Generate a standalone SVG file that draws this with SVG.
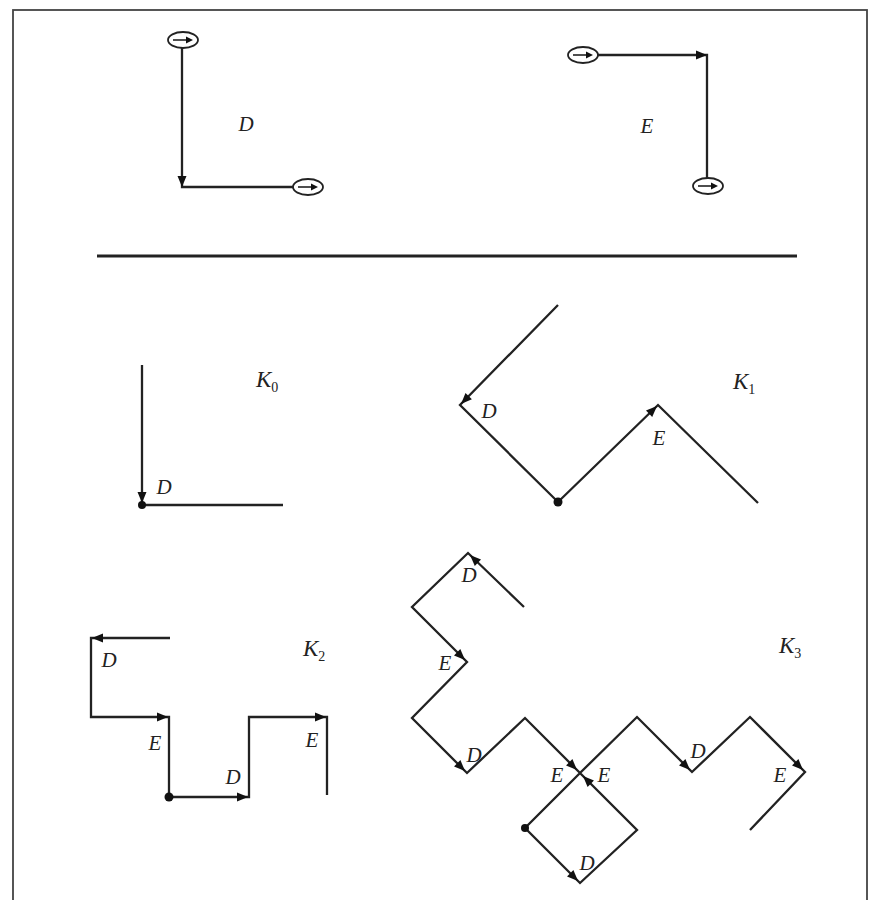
<svg xmlns="http://www.w3.org/2000/svg" xmlns:xlink="http://www.w3.org/1999/xlink" width="875" height="900" viewBox="0 0 875 900">
<style>
.ln{fill:none;stroke:#222;stroke-width:2.3;stroke-linejoin:miter;stroke-linecap:butt}
.ov{fill:none;stroke:#222;stroke-width:1.8}
.ah{fill:#111}
.dot{fill:#111}
.lb{font-family:"Liberation Serif","Times New Roman",serif;font-style:italic;font-size:21px;fill:#222}
.kl{font-size:23px}
.sub{font-style:normal;font-size:14px}
</style>
<defs>
<path id="ah" d="M0,0 L-11,-4.5 L-11,4.5 Z"/>
<path id="sah" d="M0,0 L-7,-3.5 L-7,3.5 Z"/>
</defs>
<rect x="13" y="10" width="854" height="900" fill="#fff" stroke="#444" stroke-width="1.8"/>

<g id="connectors">
<line x1="97" y1="256" x2="797" y2="256" stroke="#222" stroke-width="3"/>
</g>

<g id="rule-D">
<ellipse class="ov" cx="183" cy="40" rx="15" ry="8"/>
<line x1="173" y1="40" x2="187" y2="40" stroke="#222" stroke-width="1.6"/>
<use href="#sah" class="ah" transform="translate(193,40)"/>
<path class="ln" d="M182,48 V187 H293"/>
<use href="#ah" class="ah" transform="translate(182,187) rotate(90)"/>
<ellipse class="ov" cx="308" cy="187" rx="15" ry="8"/>
<line x1="298" y1="187" x2="312" y2="187" stroke="#222" stroke-width="1.6"/>
<use href="#sah" class="ah" transform="translate(318,187)"/>
<text class="lb" x="246" y="131" text-anchor="middle">D</text>
</g>

<g id="rule-E">
<ellipse class="ov" cx="583" cy="55" rx="15" ry="8"/>
<line x1="573" y1="55" x2="587" y2="55" stroke="#222" stroke-width="1.6"/>
<use href="#sah" class="ah" transform="translate(593,55)"/>
<path class="ln" d="M598,55 H707 V178"/>
<use href="#ah" class="ah" transform="translate(707,55)"/>
<ellipse class="ov" cx="708" cy="186" rx="15" ry="8"/>
<line x1="698" y1="186" x2="712" y2="186" stroke="#222" stroke-width="1.6"/>
<use href="#sah" class="ah" transform="translate(718,186)"/>
<text class="lb" x="647" y="133" text-anchor="middle">E</text>
</g>

<g id="K0">
<path class="ln" d="M142,365 V505 H283"/>
<use href="#ah" class="ah" transform="translate(142,503) rotate(90)"/>
<circle class="dot" cx="142" cy="505" r="4"/>
<text class="lb" x="164" y="494" text-anchor="middle">D</text>
<text class="lb kl" x="256" y="387">K<tspan class="sub" dy="5">0</tspan></text>
</g>

<g id="K1">
<path class="ln" d="M558,305 L460,405 L558,502 L658,405 L758,503"/>
<use href="#ah" class="ah" transform="translate(461,404) rotate(134.4)"/>
<use href="#ah" class="ah" transform="translate(657,406) rotate(-44.1)"/>
<circle class="dot" cx="558" cy="502" r="4.5"/>
<text class="lb" x="489" y="418" text-anchor="middle">D</text>
<text class="lb" x="659" y="445" text-anchor="middle">E</text>
<text class="lb kl" x="733" y="389">K<tspan class="sub" dy="5">1</tspan></text>
</g>

<g id="K2">
<path class="ln" d="M170,638 H91 V717 H169 V797 H249 V717 H327 V795"/>
<use href="#ah" class="ah" transform="translate(92,638) rotate(180)"/>
<use href="#ah" class="ah" transform="translate(168,717)"/>
<use href="#ah" class="ah" transform="translate(248,797)"/>
<use href="#ah" class="ah" transform="translate(326,717)"/>
<circle class="dot" cx="169" cy="797" r="4.5"/>
<text class="lb" x="109" y="667" text-anchor="middle">D</text>
<text class="lb" x="155" y="750" text-anchor="middle">E</text>
<text class="lb" x="233" y="784" text-anchor="middle">D</text>
<text class="lb" x="312" y="747" text-anchor="middle">E</text>
<text class="lb kl" x="303" y="656">K<tspan class="sub" dy="5">2</tspan></text>
</g>

<g id="K3">
<path class="ln" d="M524,607 L468,553 L412,607 L467,662 L412,718 L467,773 L525,718 L580,773 L525,828 L580,883 L637,830 L580,773 L637,717 L692,772 L750,717 L805,772 L750,830"/>
<use href="#ah" class="ah" transform="translate(470,555) rotate(-136)"/>
<use href="#ah" class="ah" transform="translate(465,660) rotate(44.5)"/>
<use href="#ah" class="ah" transform="translate(465,771) rotate(45)"/>
<use href="#ah" class="ah" transform="translate(577,770) rotate(45)"/>
<use href="#ah" class="ah" transform="translate(578,881) rotate(45)"/>
<use href="#ah" class="ah" transform="translate(583,776) rotate(-135)"/>
<use href="#ah" class="ah" transform="translate(690,770) rotate(45)"/>
<use href="#ah" class="ah" transform="translate(803,770) rotate(45)"/>
<circle class="dot" cx="525" cy="828" r="4"/>
<text class="lb" x="469" y="582" text-anchor="middle">D</text>
<text class="lb" x="445" y="670" text-anchor="middle">E</text>
<text class="lb" x="474" y="762" text-anchor="middle">D</text>
<text class="lb" x="557" y="782" text-anchor="middle">E</text>
<text class="lb" x="604" y="782" text-anchor="middle">E</text>
<text class="lb" x="698" y="758" text-anchor="middle">D</text>
<text class="lb" x="780" y="782" text-anchor="middle">E</text>
<text class="lb" x="587" y="870" text-anchor="middle">D</text>
<text class="lb kl" x="779" y="653">K<tspan class="sub" dy="5">3</tspan></text>
</g>
</svg>
